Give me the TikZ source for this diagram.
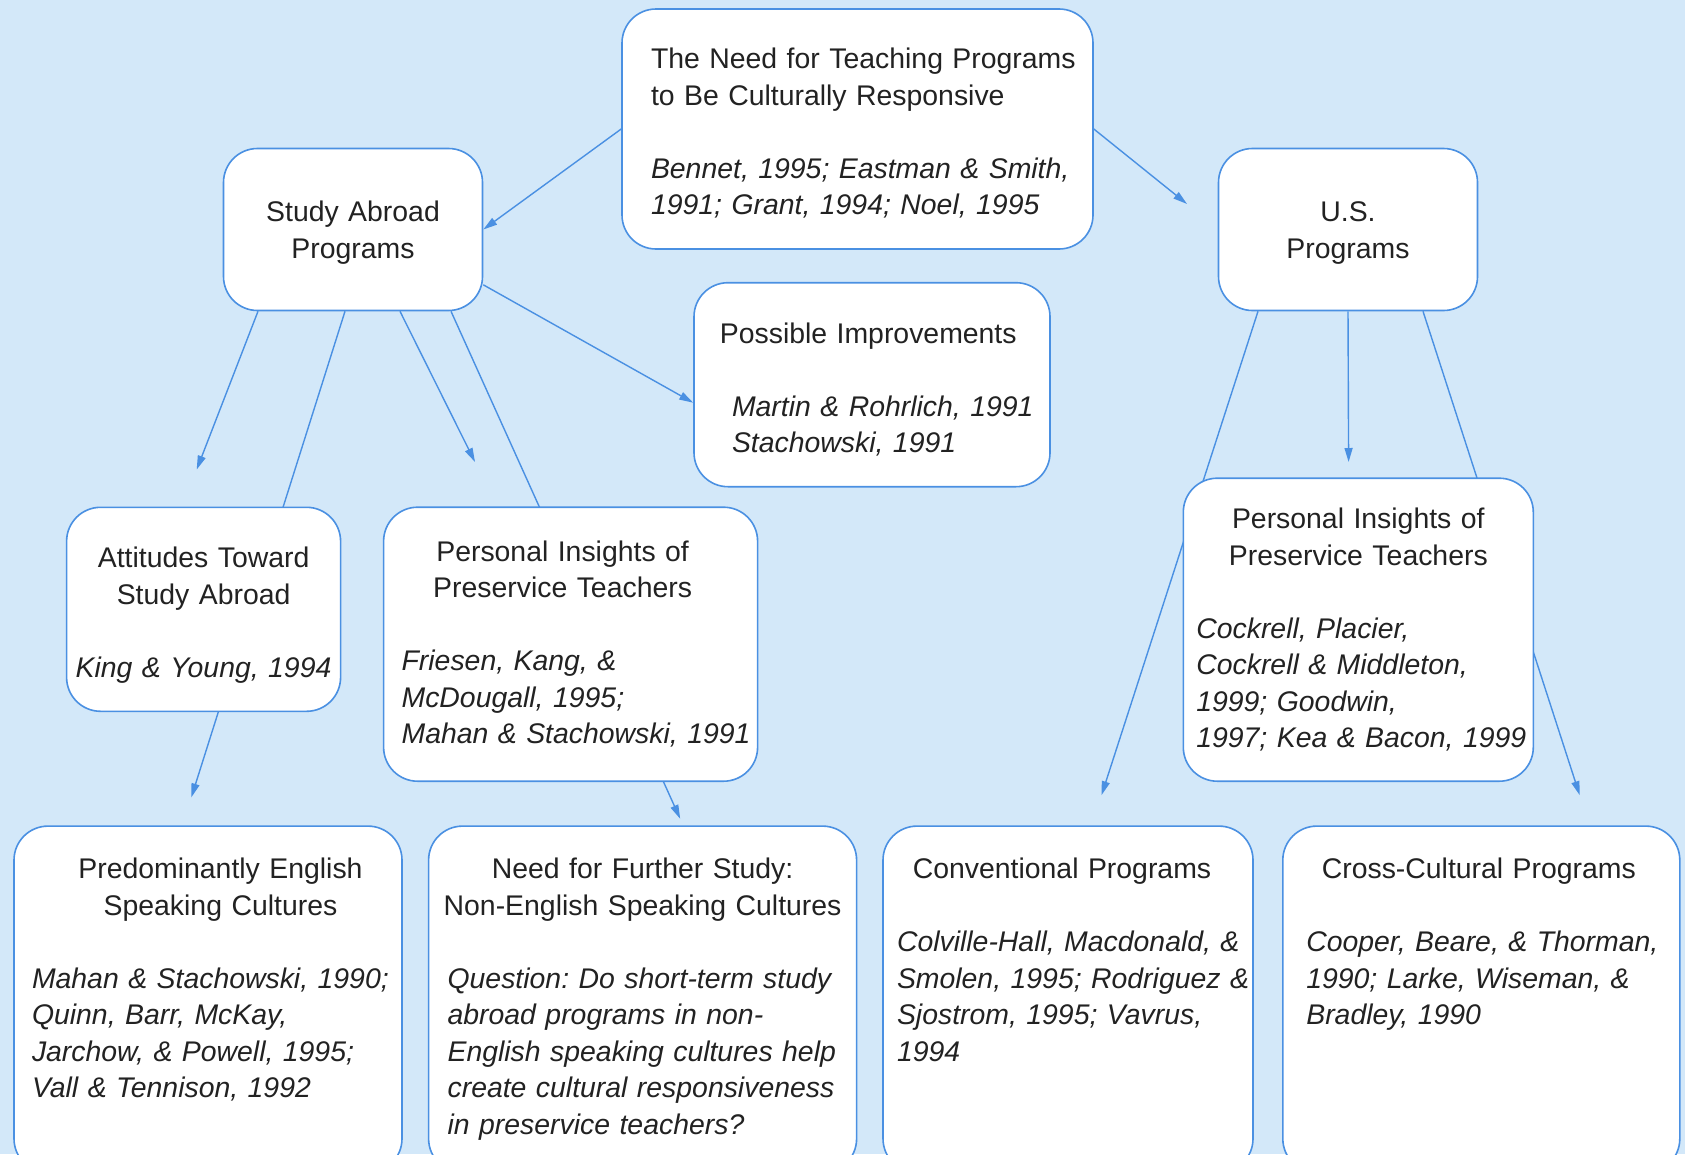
\documentclass[tikz,border=0pt]{standalone}
\usepackage{fontspec}
\setmainfont{Liberation Sans}
\usetikzlibrary{arrows.meta,positioning}
\pgfdeclarelayer{back}
\pgfdeclarelayer{edges}
\pgfsetlayers{back,edges,main}
\definecolor{bgblue}{RGB}{211,232,249}
\definecolor{lineblue}{RGB}{74,144,226}
\definecolor{inkgray}{RGB}{34,34,34}
\newlength\titleshift
\newlength\citeshift
% centred heading, blank line, italic references
\newcommand{\cardtext}[2]{{\centering\advance\leftskip\titleshift #1\par}\vspace{\baselineskip}%
  {\raggedright\advance\leftskip\citeshift\itshape #2\par}}
\tikzset{
  card/.style={draw=lineblue, fill=white, line width=1.6pt, rounded corners=34pt,
    inner sep=0pt, text=inkgray, font=\fontsize{28.4}{36.5}\selectfont\frenchspacing},
  lowcard/.style={card, anchor=north, inner ysep=32pt, text depth=262pt},
  tune/.style n args={3}{execute at begin node={\rule{0pt}{#1}\setlength\titleshift{#2}\setlength\citeshift{#3}}},
  link/.style={draw=lineblue, line width=1.4pt, -{Triangle[length=14pt,width=8pt]}}
}

\begin{document}
\begin{tikzpicture}[x=1pt,y=-1pt]
    \useasboundingbox (0,0) rectangle (1685,1154);
    \begin{pgfonlayer}{back}
      \fill[bgblue] (0,0) rectangle (1685,1154);
    \end{pgfonlayer}
    \clip (0,0) rectangle (1685,1154);

    % top row
    \node[card, minimum width=471pt, minimum height=240pt, text width=446pt, tune={29pt}{0pt}{0pt}] (need) at (857.5,129)
      {\raggedright\leftskip=16.5pt The Need for Teaching Programs\\to Be Culturally Responsive\par
       \vspace{\baselineskip}\itshape Bennet, 1995; Eastman \& Smith,\\1991; Grant, 1994; Noel, 1995\par};
    \node[card, minimum width=259pt, minimum height=162pt, text width=220pt, tune={27pt}{0pt}{0pt}] (abroad) at (353,229.5)
      {\centering Study Abroad\\Programs\par};
    \node[card, minimum width=259pt, minimum height=162pt, text width=220pt, tune={27pt}{0pt}{0pt}] (us) at (1348,229.5)
      {\centering U.S.\\Programs\par};
    \node[card, minimum width=356pt, minimum height=204pt, text width=340pt, tune={30pt}{-7.5pt}{30pt}] (improve) at (872,384.7)
      {\cardtext{Possible Improvements}{Martin \& Rohrlich, 1991\\Stachowski, 1991}};

    % middle row
    \node[card, minimum width=274pt, minimum height=204pt, text width=268pt, tune={32.5pt}{0pt}{6pt}] (attitudes) at (203.6,609.3)
      {\cardtext{Attitudes Toward\\Study Abroad}{King \& Young, 1994}};
    \node[card, minimum width=374pt, minimum height=274pt, text width=362pt, tune={0pt}{-16pt}{12pt}] (insightsA) at (570.6,644.2)
      {\cardtext{Personal Insights of\\Preservice Teachers}{Friesen, Kang, \&\\McDougall, 1995;\\Mahan \& Stachowski, 1991}};
    \node[card, minimum width=350pt, minimum height=303pt, text width=344pt, tune={0pt}{0pt}{10pt}] (insightsB) at (1358.3,629.7)
      {\cardtext{Personal Insights of\\Preservice Teachers}{Cockrell, Placier,\\Cockrell \& Middleton,\\1999; Goodwin,\\1997; Kea \& Bacon, 1999}};

    % bottom row, running off the page
    \node[lowcard, minimum width=388pt, text width=376pt, tune={0pt}{25pt}{12pt}] (english) at (208,825.3)
      {\cardtext{Predominantly English\\Speaking Cultures}{Mahan \& Stachowski, 1990;\\Quinn, Barr, McKay,\\Jarchow, \& Powell, 1995;\\Vall \& Tennison, 1992}};
    \node[lowcard, minimum width=428pt, text width=414pt, tune={0pt}{0pt}{12pt}] (further) at (642.6,825.3)
      {\cardtext{Need for Further Study:\\Non-English Speaking Cultures}{Question: Do short-term study\\abroad programs in non-\\English speaking cultures help\\create cultural responsiveness\\in preservice teachers?}};
    \node[lowcard, minimum width=370pt, text width=368pt, tune={0pt}{-12pt}{13pt}] (conventional) at (1068,825.3)
      {\cardtext{Conventional Programs}{Colville-Hall, Macdonald, \&\\Smolen, 1995; Rodriguez \&\\Sjostrom, 1995; Vavrus,\\1994}};
    \node[lowcard, minimum width=397pt, text width=376pt, tune={0pt}{-5pt}{13pt}] (crosscult) at (1481.3,825.3)
      {\cardtext{Cross-Cultural Programs}{Cooper, Beare, \& Thorman,\\1990; Larke, Wiseman, \&\\Bradley, 1990}};

    % loose arrow ends
    \coordinate (usEnd) at (1187,204);
    \coordinate (attEnd) at (196.7,469.6);
    \coordinate (engEnd) at (191.3,797.4);
    \coordinate (insEnd) at (475,462);
    \coordinate (furEnd) at (680.2,818.8);
    \coordinate (convEnd) at (1101.5,795.2);
    \coordinate (midEnd) at (1348.6,462);
    \coordinate (crossEnd) at (1579.7,795.2);

    % connectors, behind the boxes
    \begin{pgfonlayer}{edges}
      \draw[link] (need.west) -- (abroad.east);
      \draw[link] (need.east) -- (usEnd);
      \draw[link] ([xshift=-95pt]abroad.south) -- (attEnd);
      \draw[link] ([xshift=-8pt]abroad.south) -- (engEnd);
      \draw[link] ([xshift=47pt]abroad.south) -- (insEnd);
      \draw[link] ([xshift=98pt]abroad.south) -- (furEnd);
      \draw[link] (abroad.-23) -- ([yshift=-18pt]improve.west);
      \draw[link] ([xshift=-90pt]us.south) -- (convEnd);
      \draw[link] (us.south) -- (midEnd);
      \draw[link] ([xshift=75pt]us.south) -- (crossEnd);
    \end{pgfonlayer}
\end{tikzpicture}
\end{document}
